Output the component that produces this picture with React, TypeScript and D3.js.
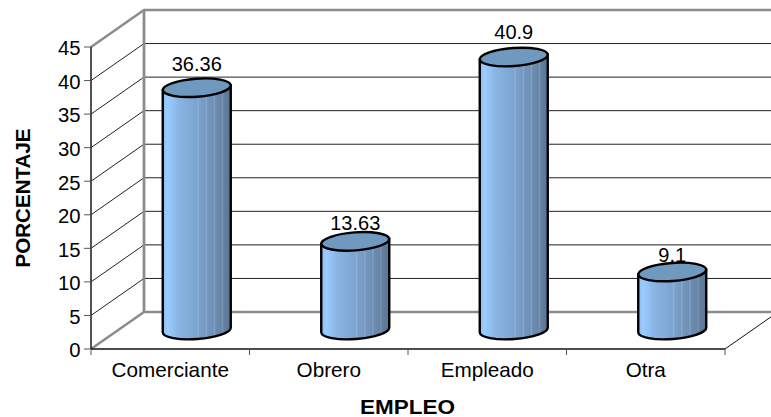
import React from "react";
import * as d3 from "d3";

const categories = ["Comerciante", "Obrero", "Empleado", "Otra"];
const values = [36.36, 13.63, 40.9, 9.1];
const valueLabels = ["36.36", "13.63", "40.9", "9.1"];
const yTicks = [0, 5, 10, 15, 20, 25, 30, 35, 40, 45];
const shadeStops: [number, string][] = [
  [0, "#8fbdf0"], [0.07, "#9accff"], [0.14, "#93c3f5"], [0.22, "#8ab6e6"], [0.3, "#86b0de"],
  [0.42, "#80a9d6"], [0.5, "#7ca3cf"], [0.52, "#8fb1d6"], [0.54, "#7aa0ca"], [0.62, "#7699c2"],
  [0.64, "#89a8cb"], [0.66, "#7396bd"], [0.74, "#6f90b6"], [0.76, "#83a0c0"], [0.78, "#6b8bb0"],
  [0.86, "#6785a8"], [0.88, "#7a94b2"], [0.9, "#627f9f"], [1, "#5a7696"],
];

const W = 771, H = 417;
const dx = 53, dy = -37;
const x = d3.scaleBand<string>().domain(categories).range([91, 725]).paddingInner(0).paddingOuter(0);
const y = d3.scaleLinear().domain([0, 45]).range([349, 47]);
const barTop = d3.scaleLinear().domain([0, 45]).range([333.5, 29.3]);
const labelY = d3.scaleLinear().domain([0, 45]).range([325.7, 10.2]);
const barRx = 34, barRy = 9, tilt = 2.5;
const baseY = 330;

function Cylinder({ cat, v }: { cat: string; v: number }) {
  const cx = x(cat)! + x.bandwidth() / 2 + dx / 2;
  const topY = barTop(v);
  const angle = (-Math.atan2(tilt, barRx) * 180) / Math.PI;
  const L = cx - barRx, R = cx + barRx;
  const body = `M${L},${topY + tilt} L${L},${baseY + tilt} A${barRx},${barRy} ${angle} 0 0 ${R},${baseY - tilt} L${R},${topY - tilt} Z`;
  return (
    <g stroke="#000" strokeWidth={2.4}>
      <path d={body} fill="url(#cyl)" />
      <ellipse cx={cx} cy={topY} rx={barRx} ry={barRy} transform={`rotate(${angle} ${cx} ${topY})`} fill="#7099c0" />
    </g>
  );
}

export default function App() {
  const font = "'Liberation Sans', Arial, sans-serif";
  const ticksX = [...categories.map((c) => x(c)!), 725];
  return (
    <svg width={W} height={H} style={{ position: "absolute", left: 0, top: 0, background: "#fff" }} fontFamily={font}>
      <defs>
        <linearGradient id="cyl" x1="0" x2="1" y1="0" y2="0">
          {shadeStops.map(([o, c]) => <stop key={o} offset={o} stopColor={c} />)}
        </linearGradient>
      </defs>
      {yTicks.slice(1, -1).map((t) => (
        <polyline key={t} points={`${91},${y(t)} ${91 + dx},${y(t) + dy} ${W},${y(t) + dy}`} fill="none" stroke="#222" strokeWidth={1} />
      ))}
      <polyline points={`91,${y(45)} ${91 + dx},${y(45) + dy} ${W},${y(45) + dy}`} fill="none" stroke="#8c8c8c" strokeWidth={2.5} />
      <line x1={91 + dx} x2={91 + dx} y1={y(45) + dy} y2={y(0) + dy} stroke="#8c8c8c" strokeWidth={2.8} />
      <polyline points={`91,${y(0)} ${91 + dx},${y(0) + dy} ${W},${y(0) + dy}`} fill="none" stroke="#8c8c8c" strokeWidth={2.5} />
      <line x1={725} y1={y(0)} x2={725 + dx} y2={y(0) + dy} stroke="#111" strokeWidth={1} />
      <line x1={91} x2={91} y1={y(45)} y2={y(0)} stroke="#333" strokeWidth={1.7} />
      <line x1={91} x2={725} y1={y(0)} y2={y(0)} stroke="#111" strokeWidth={1.5} />
      {yTicks.map((t) => (
        <g key={t}>
          <line x1={84} x2={91} y1={y(t)} y2={y(t)} stroke="#555" />
          <text x={80.5} y={y(t) + 1} dy="0.36em" textAnchor="end" fontSize={20.3} fill="#000">{t}</text>
        </g>
      ))}
      {ticksX.map((t) => <line key={t} x1={t} x2={t} y1={y(0)} y2={355} stroke="#555" />)}
      {categories.map((c, i) => <Cylinder key={c} cat={c} v={values[i]} />)}
      {categories.map((c, i) => {
        const cx = x(c)! + x.bandwidth() / 2;
        return (
          <g key={c} textAnchor="middle" fill="#000" stroke="none">
            <text x={cx} y={377} fontSize={20.7}>{c}</text>
            <text x={cx + dx / 2} y={labelY(values[i])} fontSize={20}>{valueLabels[i]}</text>
          </g>
        );
      })}
      <text x={407.5} y={414} textAnchor="middle" fontSize={20.5} fontWeight="bold" textLength={95} lengthAdjust="spacingAndGlyphs">EMPLEO</text>
      <text transform="translate(30,198) rotate(-90)" textAnchor="middle" fontSize={20.6} fontWeight="bold">PORCENTAJE</text>
    </svg>
  );
}
